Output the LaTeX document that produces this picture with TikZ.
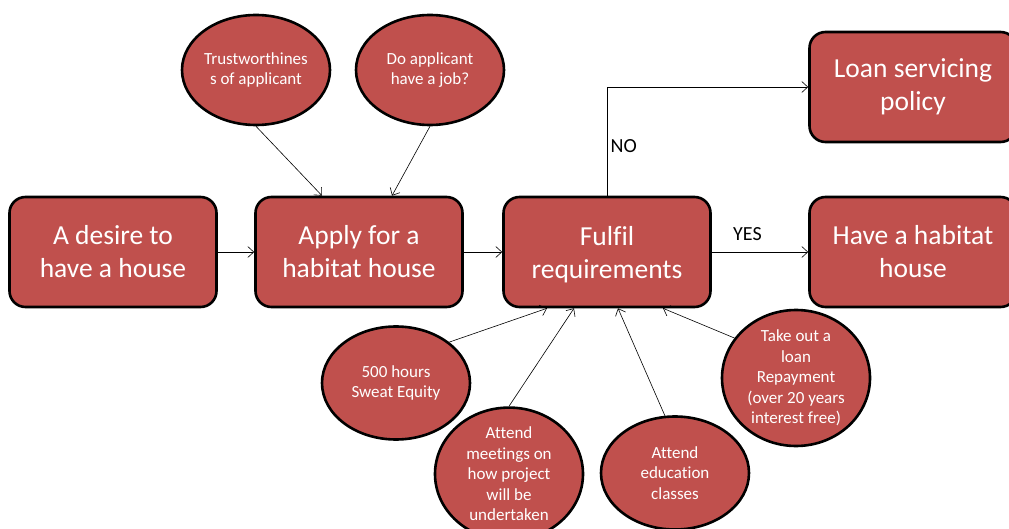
\documentclass[tikz,border=0pt]{standalone}
\usepackage{fontspec}
\setmainfont{Carlito}[Ligatures=NoCommon]
\usepackage{xcolor}
\usetikzlibrary{shapes,arrows,positioning,arrows.meta}

\definecolor{brick}{HTML}{C0504D}

\begin{document}
\begin{tikzpicture}[x=1pt, y=-1pt,
    stage/.style={rectangle, rounded corners=16pt, draw, line width=2.6pt, fill=brick, text=white, minimum width=207pt, minimum height=110pt, align=center, font=\fontsize{27.5}{33}\selectfont},
    need/.style={ellipse, draw, line width=2.6pt, fill=brick, text=white, minimum width=148pt, minimum height=110pt, inner sep=0pt, align=center, font=\fontsize{17}{20.5}\selectfont},
    link/.style={-{Straight Barb[length=6pt, width=11pt]}, line width=0.6pt},
    answer/.style={font=\fontsize{20}{24}\selectfont}
]
    \useasboundingbox (0,0) rectangle (1009,529);
    \clip (0,0) rectangle (1009,529);

    % main steps
    \node[stage] (desire) at (113,252) {A desire to\\have a house};
    \node[stage] (apply) at (359,252) {Apply for a\\habitat house};
    \node[stage] (fulfil) at (607,252) {Fulfil\\\smash{requirements}};
    \node[stage] (have) at (913,252) {Have a habitat\\house};
    \node[stage] (policy) at (913,87) {Loan servicing\\policy};

    % checks and conditions
    \node[need] (trust) at (256,70) {Trustworthines\\s of applicant};
    \node[need] (job) at (430,70) {Do applicant\\have a job?};
    \node[need, minimum height=113pt] (sweat) at (396,383) {500 hours\\Sweat Equity};
    \node[need, minimum height=112pt] (meet) at (509,474) {Attend\\meetings on\\how project\\will be\\undertaken};
    \node[need, minimum height=113pt] (edu) at (675,473) {Attend\\education\\classes};
    \node[need, minimum height=116pt] (loan) at (796,378) {Take out a\\loan\\Repayment\\(over 20 years\\interest free)};

    % connectors
    \draw[link] (trust.south) -- ([xshift=-37pt]apply.north);
    \draw[link] (job.south) -- ([xshift=33pt]apply.north);
    \draw[link] (desire) -- (apply);
    \draw[link] (apply) -- (fulfil);
    \draw[link] (fulfil) -- node[answer, above=8pt, pos=0.37] {YES} (have);
    \draw[link] (fulfil.north) |- node[answer, right, pos=0.23] {NO} (policy.west);
    \draw[link] (sweat.north east) -- ([xshift=-60pt]fulfil.south);
    \draw[link] (meet.north) -- ([xshift=-33pt]fulfil.south);
    \draw[link] (edu.100) -- ([xshift=11pt]fulfil.south);
    \draw[link] (loan.147) -- ([xshift=56pt]fulfil.south);
\end{tikzpicture}
\end{document}
